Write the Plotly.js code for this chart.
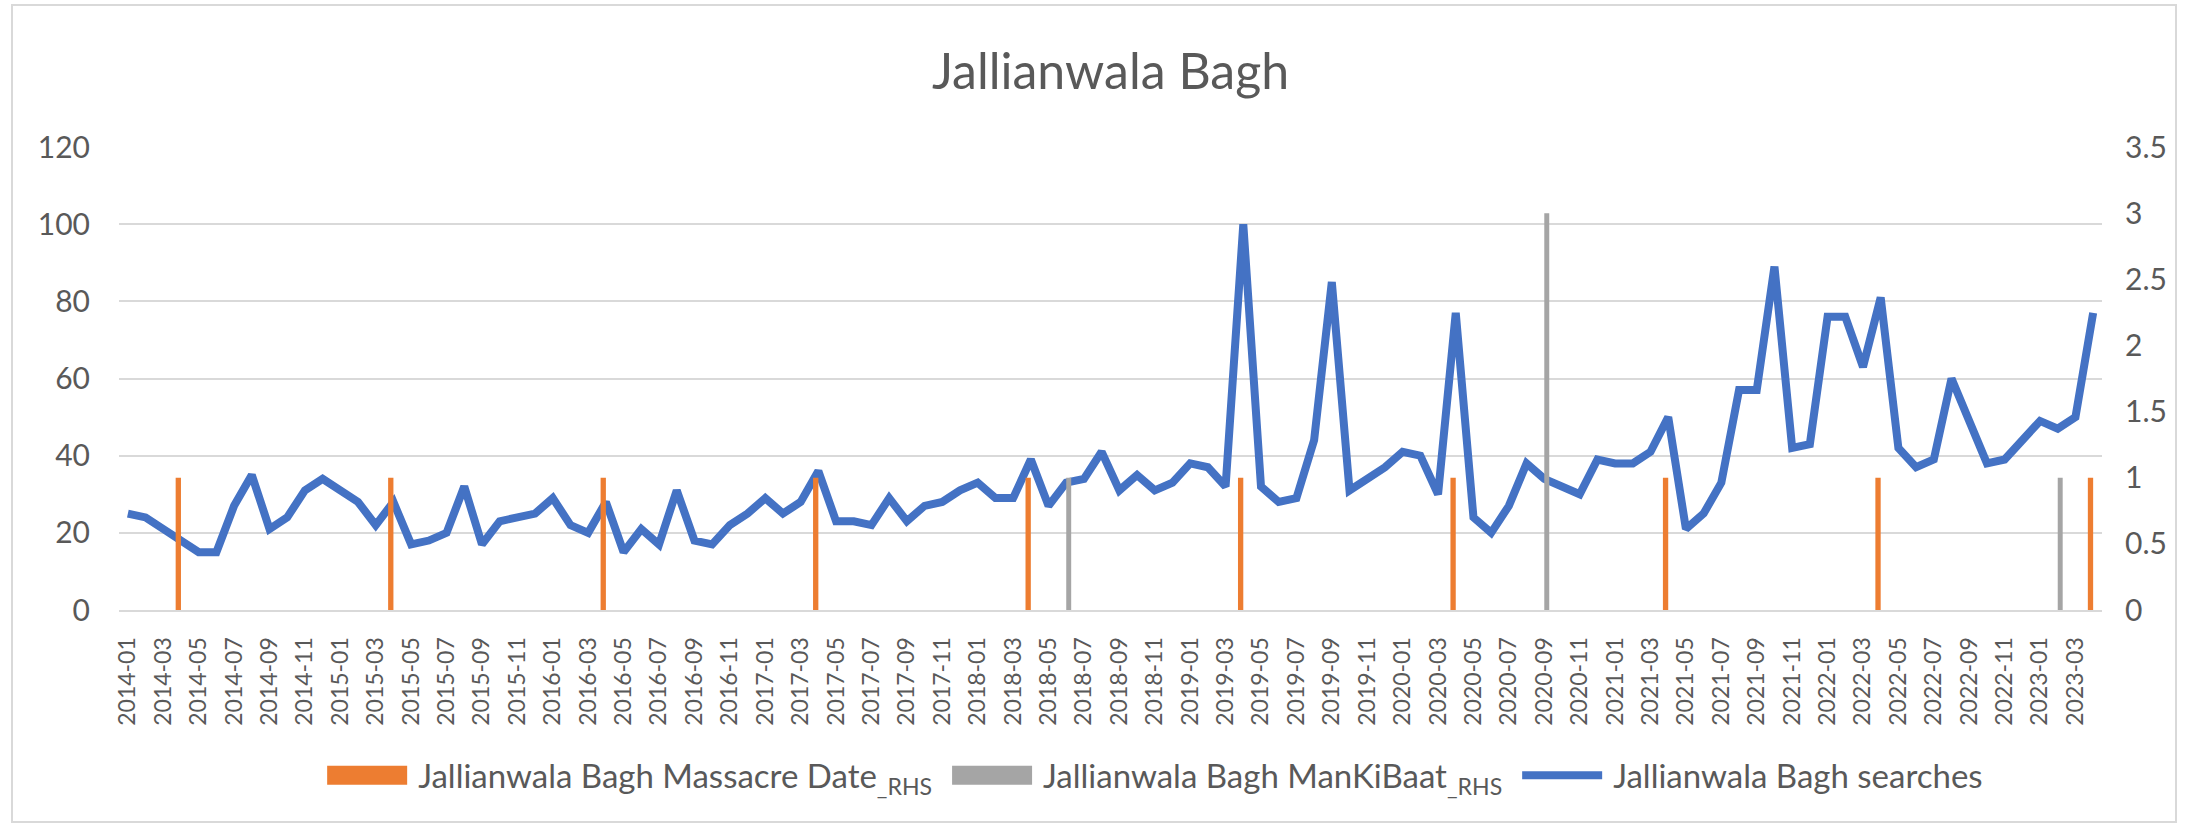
<!DOCTYPE html>
<html>
<head>
<meta charset="utf-8">
<script src="https://cdn.plot.ly/plotly-3.0.1.min.js"></script>
<style>
  html, body { margin: 0; padding: 0; background: #ffffff; }
  #frame { position: absolute; left: 11px; top: 4px; width: 2166px; height: 819px; border: 2px solid #d9d9d9; box-sizing: border-box; pointer-events: none; z-index: 5; }
  #chart { position: absolute; left: 0; top: 0; width: 2194px; height: 827px; }
</style>
</head>
<body>
<div id="chart"></div>
<div id="frame"></div>
<script>
const months = [
  "2014-01","2014-02","2014-03","2014-04","2014-05","2014-06","2014-07","2014-08","2014-09","2014-10","2014-11","2014-12",
  "2015-01","2015-02","2015-03","2015-04","2015-05","2015-06","2015-07","2015-08","2015-09","2015-10","2015-11","2015-12",
  "2016-01","2016-02","2016-03","2016-04","2016-05","2016-06","2016-07","2016-08","2016-09","2016-10","2016-11","2016-12",
  "2017-01","2017-02","2017-03","2017-04","2017-05","2017-06","2017-07","2017-08","2017-09","2017-10","2017-11","2017-12",
  "2018-01","2018-02","2018-03","2018-04","2018-05","2018-06","2018-07","2018-08","2018-09","2018-10","2018-11","2018-12",
  "2019-01","2019-02","2019-03","2019-04","2019-05","2019-06","2019-07","2019-08","2019-09","2019-10","2019-11","2019-12",
  "2020-01","2020-02","2020-03","2020-04","2020-05","2020-06","2020-07","2020-08","2020-09","2020-10","2020-11","2020-12",
  "2021-01","2021-02","2021-03","2021-04","2021-05","2021-06","2021-07","2021-08","2021-09","2021-10","2021-11","2021-12",
  "2022-01","2022-02","2022-03","2022-04","2022-05","2022-06","2022-07","2022-08","2022-09","2022-10","2022-11","2022-12",
  "2023-01","2023-02","2023-03","2023-04"
];

const searches = [
  25,24,21,18,15,15,27,35,21,24,31,34,
  31,28,22,28,17,18,20,32,17,23,24,25,
  29,22,20,28,15,21,17,31,18,17,22,25,
  29,25,28,36,23,23,22,29,23,27,28,31,
  33,29,29,39,27,33,34,41,31,35,31,33,
  38,37,32,100,32,28,29,44,85,31,34,37,
  41,40,30,77,24,20,27,38,34,32,30,39,
  38,38,41,50,21,25,33,57,57,89,42,43,
  76,76,63,81,42,37,39,60,49,38,39,44,
  49,47,50,77
];

const massacreMonths = ["2014-04","2015-04","2016-04","2017-04","2018-04","2019-04","2020-04","2021-04","2022-04","2023-04"];
const massacreValues = [1,1,1,1,1,1,1,1,1,1];

const manKiBaatMonths = ["2018-06","2020-09","2023-02"];
const manKiBaatValues = [1,3,1];

const titleText = "Jallianwala Bagh";
const nameMassacre = "Jallianwala Bagh Massacre Date<sub>_RHS</sub>";
const nameMKB = "Jallianwala Bagh ManKiBaat<sub>_RHS</sub>";
const nameSearches = "Jallianwala Bagh searches";

const leftTicks = [0,20,40,60,80,100,120];
const rightTicks = [0,0.5,1,1.5,2,2.5,3,3.5];

const textColor = "#595959";
const font = "Lato, 'Open Sans', sans-serif";

const traces = [
  {
    type: "bar", name: nameMassacre, x: massacreMonths, y: massacreValues,
    yaxis: "y2", width: 0.3, offset: -0.3, marker: { color: "#ED7D31" }
  },
  {
    type: "bar", name: nameMKB, x: manKiBaatMonths, y: manKiBaatValues,
    yaxis: "y2", width: 0.28, offset: 0, marker: { color: "#A5A5A5" }
  },
  {
    type: "scatter", mode: "lines", name: nameSearches, x: months, y: searches,
    yaxis: "y", line: { color: "#4472C4", width: 8, shape: "linear" }
  }
];

const layout = {
  width: 2194, height: 827,
  margin: { l: 119, r: 92, t: 147, b: 217, pad: 0 },
  paper_bgcolor: "#ffffff", plot_bgcolor: "#ffffff",
  font: { family: font, color: textColor, size: 24 },
  title: {
    text: titleText, font: { family: font, size: 50, color: textColor },
    x: 0.5, xref: "paper", xanchor: "center",
    y: 0.913, yref: "container", yanchor: "middle"
  },
  barmode: "overlay",
  xaxis: {
    type: "category", categoryorder: "array", categoryarray: months,
    range: [-0.5, months.length - 0.5],
    tickmode: "linear", tick0: 0, dtick: 2, tickangle: -90,
    ticks: "", ticklabelstandoff: 16,
    tickfont: { family: font, size: 23, color: textColor },
    showgrid: false, showline: true, linecolor: "#d9d9d9", linewidth: 2,
    zeroline: false, fixedrange: true
  },
  yaxis: {
    range: [0, 120], tickvals: leftTicks, ticktext: leftTicks.map(String),
    ticks: "", ticklabelstandoff: 28,
    tickfont: { family: font, size: 30, color: textColor },
    showgrid: true, gridcolor: "#d9d9d9", gridwidth: 2,
    zeroline: false, showline: false, fixedrange: true
  },
  yaxis2: {
    range: [0, 3.5], tickvals: rightTicks, ticktext: rightTicks.map(String),
    overlaying: "y", side: "right",
    ticks: "", ticklabelstandoff: 22,
    tickfont: { family: font, size: 30, color: textColor },
    showgrid: false, zeroline: false, showline: false, fixedrange: true
  },
  showlegend: true,
  legend: {
    orientation: "h", x: 0.52, xanchor: "center", y: -0.357, yanchor: "middle",
    font: { family: font, size: 33, color: textColor },
    itemwidth: 96, traceorder: "normal", bgcolor: "rgba(0,0,0,0)"
  }
};

const chartDiv = document.getElementById("chart");
const SWATCH_LEN = 80, SWATCH_GAP = 11, SWATCH_H = 19;

// Legend swatches: wide rectangles for the bars and an equally long line, ending just before the label
function styleLegendSwatches() {
  chartDiv.querySelectorAll("g.legend g.traces").forEach(function (g) {
    const t = g.querySelector("text.legendtext");
    if (!t) return;
    let tx = parseFloat(t.getAttribute("x"));
    if (!isFinite(tx)) { try { tx = t.getBBox().x; } catch (e) { return; } }
    const end = tx - SWATCH_GAP, start = end - SWATCH_LEN, h = SWATCH_H / 2;
    const rect = "M" + start + "," + h + "H" + end + "V" + (-h) + "H" + start + "Z";
    g.querySelectorAll("g.legendpoints path").forEach(function (p) {
      if (p.getAttribute("d") !== rect) {
        p.setAttribute("transform", "translate(0,0)");
        p.setAttribute("d", rect);
      }
    });
    const line = "M" + start + ",0H" + end;
    g.querySelectorAll("g.legendlines path").forEach(function (p) {
      if (p.getAttribute("d") !== line) p.setAttribute("d", line);
    });
  });
}

const observer = new MutationObserver(function () { styleLegendSwatches(); });
observer.observe(chartDiv, { childList: true, subtree: true, attributes: true, attributeFilter: ["d", "transform", "x"] });

Plotly.newPlot(chartDiv, traces, layout, { displayModeBar: false, staticPlot: true }).then(function () {
  styleLegendSwatches();
  setTimeout(styleLegendSwatches, 50);
  setTimeout(styleLegendSwatches, 300);
});
</script>
</body>
</html>
